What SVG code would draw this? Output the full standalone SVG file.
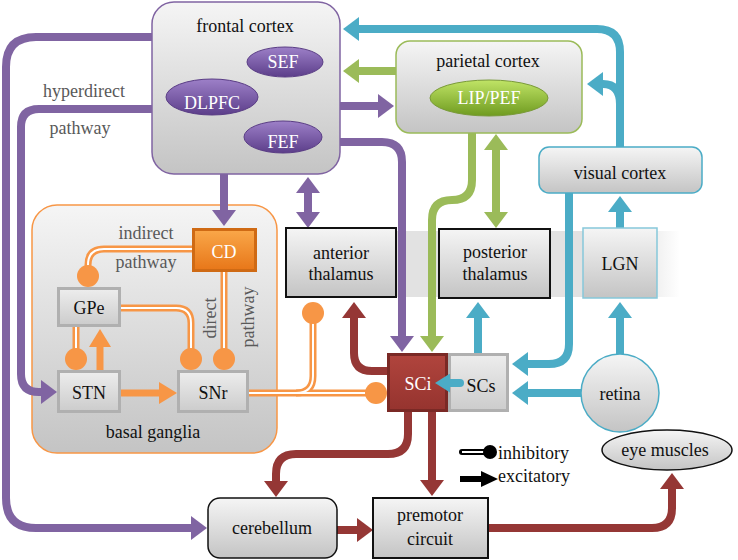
<svg xmlns="http://www.w3.org/2000/svg" width="738" height="560" viewBox="0 0 738 560">
<style>
text{font-family:'Liberation Serif','DejaVu Serif','Noto Serif','Times New Roman',serif;font-size:18px;fill:#111;text-anchor:middle}
.w{fill:#fff}
.g{fill:#595959}
.l{text-anchor:start}
.p{fill:none;stroke:#8064A2;stroke-width:8}
.c{fill:none;stroke:#4BACC6;stroke-width:8}
.gr{fill:none;stroke:#9BBB59;stroke-width:8}
.r{fill:none;stroke:#953735;stroke-width:8}
.o{fill:none;stroke:#F79646;stroke-width:7}
.ow{fill:none;stroke:#fff;stroke-width:2}
.dot{fill:#F79646}
</style>
<defs>
<linearGradient id="gray" x1="0" y1="0" x2="0" y2="1"><stop offset="0" stop-color="#f5f5f5"/><stop offset="1" stop-color="#c4c4c4"/></linearGradient>
<linearGradient id="bev" x1="0" y1="0" x2="0" y2="1"><stop offset="0" stop-color="#ececec"/><stop offset="1" stop-color="#cdcdcd"/></linearGradient>
<linearGradient id="red" x1="0" y1="0" x2="0" y2="1"><stop offset="0" stop-color="#b0443d"/><stop offset="1" stop-color="#96342f"/></linearGradient>
<linearGradient id="org" x1="0" y1="0" x2="0" y2="1"><stop offset="0" stop-color="#f9a648"/><stop offset="1" stop-color="#e8781a"/></linearGradient>
<linearGradient id="pur" x1="0" y1="0" x2="0" y2="1"><stop offset="0" stop-color="#9d80c8"/><stop offset="1" stop-color="#5c3e8a"/></linearGradient>
<linearGradient id="grn" x1="0" y1="0" x2="0" y2="1"><stop offset="0" stop-color="#c0e466"/><stop offset="1" stop-color="#6f9b20"/></linearGradient>
<linearGradient id="band" x1="0" y1="0" x2="1" y2="0"><stop offset="0" stop-color="#e2e2e2"/><stop offset="0.88" stop-color="#e2e2e2"/><stop offset="1" stop-color="#e2e2e2" stop-opacity="0"/></linearGradient>
<marker id="aP" viewBox="0 0 16 24" refX="0" refY="12" markerWidth="16" markerHeight="24" markerUnits="userSpaceOnUse" orient="auto-start-reverse"><path d="M0,0 L16,12 L0,24 Z" fill="#8064A2"/></marker>
<marker id="aC" viewBox="0 0 16 24" refX="0" refY="12" markerWidth="16" markerHeight="24" markerUnits="userSpaceOnUse" orient="auto-start-reverse"><path d="M0,0 L16,12 L0,24 Z" fill="#4BACC6"/></marker>
<marker id="aCs" viewBox="0 0 15 19" refX="0" refY="9.5" markerWidth="15" markerHeight="19" markerUnits="userSpaceOnUse" orient="auto"><path d="M0,0 L15,9.5 L0,19 Z" fill="#4BACC6"/></marker>
<marker id="aG" viewBox="0 0 16 24" refX="0" refY="12" markerWidth="16" markerHeight="24" markerUnits="userSpaceOnUse" orient="auto-start-reverse"><path d="M0,0 L16,12 L0,24 Z" fill="#9BBB59"/></marker>
<marker id="aR" viewBox="0 0 16 24" refX="0" refY="12" markerWidth="16" markerHeight="24" markerUnits="userSpaceOnUse" orient="auto"><path d="M0,0 L16,12 L0,24 Z" fill="#953735"/></marker>
<marker id="aO" viewBox="0 0 18 22" refX="0" refY="11" markerWidth="18" markerHeight="22" markerUnits="userSpaceOnUse" orient="auto"><path d="M0,0 L18,11 L0,22 Z" fill="#F79646"/></marker>
</defs>

<rect x="286" y="231" width="394" height="66" fill="url(#band)"/>

<g id="basal-ganglia">
<rect x="32" y="205" width="245" height="248" rx="25" fill="url(#gray)" stroke="#F79646" stroke-width="1.5"/>
<text x="153" y="438">basal ganglia</text>
<text class="g" x="146" y="239">indirect</text>
<text class="g" x="146" y="268">pathway</text>
<text class="g" transform="rotate(-90 216 318)" x="216" y="318">direct</text>
<text class="g" transform="rotate(-90 254 317)" x="254" y="317">pathway</text>
</g>

<g id="SCi">
<rect x="387" y="353" width="61" height="59" fill="#7a2925"/>
<rect x="390" y="356" width="55" height="53" fill="url(#red)"/>
<text class="w" x="418" y="390">SCi</text>
</g>
<g id="SCs">
<rect x="448" y="353" width="61" height="59" fill="#b0b0b0"/>
<rect x="451" y="356" width="55" height="53" fill="url(#bev)"/>
<text x="481" y="392">SCs</text>
</g>

<g id="connectors">
<path class="p" d="M152,37 H36 Q6,37 6,67 V498 Q6,528 36,528 H191" marker-end="url(#aP)"/>
<path class="p" d="M152,109 H39 Q21,109 21,127 V374 Q21,392 39,392 H41" marker-end="url(#aP)"/>
<path class="p" d="M340,106 H378" marker-end="url(#aP)"/>
<path class="p" d="M340,142 H382 Q402,142 402,162 V336" marker-end="url(#aP)"/>
<path class="p" d="M224,174 V210" marker-end="url(#aP)"/>
<path class="p" d="M308,193 V212" marker-start="url(#aP)" marker-end="url(#aP)"/>

<path class="c" d="M620,147 V52 Q620,29 597,29 H359" marker-end="url(#aC)"/>
<path class="c" d="M620,104 Q620,84 603,84" marker-end="url(#aC)"/>
<path class="c" d="M620,228 V212" marker-end="url(#aC)"/>
<path class="c" d="M620,354 V318" marker-end="url(#aC)"/>
<path class="c" d="M569,193 V344 Q569,364 549,364 H528" marker-end="url(#aC)"/>
<path class="c" d="M581,393 H528" marker-end="url(#aC)"/>
<path class="c" d="M478,353 V318" marker-end="url(#aC)"/>
<path d="M460,383 H450" fill="none" stroke="#4BACC6" stroke-width="8" stroke-linecap="round" marker-end="url(#aCs)"/>

<path class="gr" d="M396,71 H359" marker-end="url(#aG)"/>
<path class="gr" d="M472,133 V180 Q472,200 452,200 Q432,200 432,220 V336" marker-end="url(#aG)"/>
<path class="gr" d="M496,150 V212" marker-start="url(#aG)" marker-end="url(#aG)"/>

<path class="r" d="M387,371 H372 Q354,371 354,353 V318" marker-end="url(#aR)"/>
<path class="r" d="M408,412 V434 Q408,454 388,454 H296 Q276,454 276,474 V481" marker-end="url(#aR)"/>
<path class="r" d="M432,412 V480" marker-end="url(#aR)"/>
<path class="r" d="M337,530 H357" marker-end="url(#aR)"/>
<path class="r" d="M488,528 H652 Q672,528 672,508 V489" marker-end="url(#aR)"/>

<path class="o" d="M100,370 V347" marker-end="url(#aO)"/>
<path class="o" d="M121,393 H159" marker-end="url(#aO)"/>

<g id="inhibitory">
<path class="o" d="M192,249 H104 Q88,249 88,265 V276"/>
<path class="o" d="M121,308 H176 Q191,308 191,323 V358"/>
<path class="o" d="M224,272 V358"/>
<path class="o" d="M76,327 V358"/>
<path class="o" d="M249,393 H376"/>
<path class="o" d="M296,393 Q313,393 313,376 V313"/>
<path class="ow" d="M192,249 H104 Q88,249 88,265 V272"/>
<path class="ow" d="M121,308 H176 Q191,308 191,323 V352"/>
<path class="ow" d="M224,272 V352"/>
<path class="ow" d="M76,327 V352"/>
<path class="ow" d="M249,393 H368"/>
<path class="ow" d="M296,393 Q313,393 313,376 V320"/>
<circle class="dot" cx="88" cy="276" r="11"/>
<circle class="dot" cx="191" cy="359" r="11"/>
<circle class="dot" cx="224" cy="359" r="11"/>
<circle class="dot" cx="76" cy="359" r="11"/>
<circle class="dot" cx="376" cy="393" r="11"/>
<circle class="dot" cx="313" cy="313" r="11"/>
</g>
</g>

<g id="frontal-cortex">
<rect x="152" y="2" width="188" height="172" rx="22" fill="url(#gray)" stroke="#8064A2" stroke-width="1.5"/>
<text x="245" y="32">frontal cortex</text>
</g>
<g id="SEF"><ellipse cx="285" cy="62" rx="38" ry="15" fill="url(#pur)" stroke="#5a3d85" stroke-width="1"/><text class="w" x="283" y="68">SEF</text></g>
<g id="DLPFC"><ellipse cx="212" cy="97" rx="46" ry="18" fill="url(#pur)" stroke="#5a3d85" stroke-width="1"/><text class="w" x="212" y="109">DLPFC</text></g>
<g id="FEF"><ellipse cx="283" cy="137" rx="39" ry="16" fill="url(#pur)" stroke="#5a3d85" stroke-width="1"/><text class="w" x="283" y="148">FEF</text></g>

<text class="g" x="84" y="97">hyperdirect</text>
<text class="g" x="80" y="134">pathway</text>

<g id="parietal-cortex">
<rect x="396" y="41" width="186" height="92" rx="14" fill="url(#gray)" stroke="#9BBB59" stroke-width="1.5"/>
<text x="488" y="67">parietal cortex</text>
</g>
<g id="LIP-PEF"><ellipse cx="489" cy="98" rx="59" ry="18" fill="url(#grn)" stroke="#7a9a3a" stroke-width="1"/><text class="w" x="489" y="104">LIP/PEF</text></g>

<g id="visual-cortex">
<rect x="539" y="147" width="163" height="46" rx="10" fill="url(#gray)" stroke="#4BACC6" stroke-width="1.5"/>
<text x="620" y="179">visual cortex</text>
</g>

<g id="anterior-thalamus">
<rect x="286" y="228" width="110" height="69" fill="url(#gray)" stroke="#111" stroke-width="2"/>
<text x="341" y="259">anterior</text><text x="341" y="280">thalamus</text>
</g>
<g id="posterior-thalamus">
<rect x="439" y="229" width="111" height="69" fill="url(#gray)" stroke="#111" stroke-width="2"/>
<text x="495" y="258">posterior</text><text x="495" y="280">thalamus</text>
</g>
<g id="LGN">
<rect x="583" y="228" width="74" height="70" fill="url(#gray)" stroke="#86c8da" stroke-width="1.5"/>
<text x="620" y="270">LGN</text>
</g>
<g id="retina">
<circle cx="620" cy="393" r="39" fill="url(#gray)" stroke="#4BACC6" stroke-width="1.5"/>
<text x="620" y="400">retina</text>
</g>
<g id="eye-muscles">
<ellipse cx="667" cy="450" rx="65" ry="20" fill="url(#gray)" stroke="#111" stroke-width="1.5"/>
<text x="665" y="456">eye muscles</text>
</g>

<g id="CD">
<rect x="192" y="228" width="65" height="44" fill="#cf6a14"/>
<rect x="195" y="231" width="59" height="38" fill="url(#org)"/>
<text class="w" x="224" y="258">CD</text>
</g>
<g id="GPe">
<rect x="57" y="287" width="64" height="40" fill="#b0b0b0"/>
<rect x="60" y="290" width="58" height="34" fill="url(#bev)"/>
<text x="89" y="314">GPe</text>
</g>
<g id="STN">
<rect x="57" y="370" width="64" height="43" fill="#b0b0b0"/>
<rect x="60" y="373" width="58" height="37" fill="url(#bev)"/>
<text x="89" y="399">STN</text>
</g>
<g id="SNr">
<rect x="177" y="370" width="72" height="43" fill="#b0b0b0"/>
<rect x="180" y="373" width="66" height="37" fill="url(#bev)"/>
<text x="213" y="399">SNr</text>
</g>

<g id="cerebellum">
<rect x="208" y="498" width="129" height="60" rx="12" fill="url(#gray)" stroke="#111" stroke-width="1.5"/>
<text x="272" y="534">cerebellum</text>
</g>
<g id="premotor-circuit">
<rect x="373" y="498" width="115" height="60" fill="url(#gray)" stroke="#111" stroke-width="2"/>
<text x="430" y="521">premotor</text><text x="430" y="545">circuit</text>
</g>

<g id="legend">
<path d="M462,452 H484" stroke="#000" stroke-width="6" stroke-linecap="round"/>
<path d="M462,452 H486" stroke="#fff" stroke-width="2"/>
<circle cx="490" cy="452" r="7" fill="#000"/>
<text class="l" x="498" y="459">inhibitory</text>
<path d="M460,479 H484" stroke="#000" stroke-width="6"/>
<path d="M481,471 L498,479 L481,487 Z" fill="#000"/>
<text class="l" x="498" y="482">excitatory</text>
</g>
</svg>
